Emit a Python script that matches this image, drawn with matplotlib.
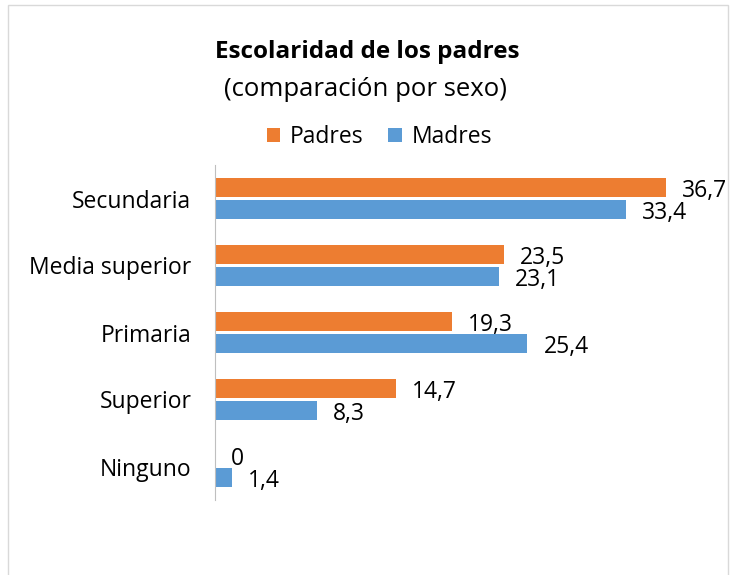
import matplotlib.pyplot as plt
import numpy as np
from matplotlib.patches import Rectangle

plt.rcParams['font.family'] = ['Open Sans', 'DejaVu Sans']

# datos
categorias = ["Secundaria", "Media superior", "Primaria", "Superior", "Ninguno"]
padres = [36.7, 23.5, 19.3, 14.7, 0]
madres = [33.4, 23.1, 25.4, 8.3, 1.4]

color_padres = "#ED7D31"
color_madres = "#5B9BD5"

fig = plt.figure(figsize=(7.32, 5.75), dpi=100)

# marco del grafico
fig.patches.append(Rectangle((8/732, -0.01), 720/732, 1 - 5/575 + 0.01,
                             transform=fig.transFigure, fill=False,
                             edgecolor="#D9D9D9", linewidth=1))

ax = fig.add_axes([215/732, 1 - 500/575, 492/732, 335/575])

y = np.arange(len(categorias))
h = 0.27
d = 0.164

ax.barh(y - d, padres, height=h, color=color_padres, label="Padres")
ax.barh(y + d, madres, height=h, color=color_madres, label="Madres")

for i in range(len(categorias)):
    ax.text(padres[i] + 1.3, y[i] - d + 0.045, "{:g}".format(padres[i]).replace(".", ","),
            va="center", ha="left", fontsize=16.5, color="#000000")
    ax.text(madres[i] + 1.3, y[i] + d + 0.045, "{:g}".format(madres[i]).replace(".", ","),
            va="center", ha="left", fontsize=16.5, color="#000000")

ax.set_ylim(len(categorias) - 0.5, -0.5)
ax.set_xlim(0, 40)
ax.set_yticks(y)
ax.set_yticklabels(categorias, fontsize=16.5)
ax.tick_params(axis="y", length=0, pad=17)
ax.set_xticks([])

for s in ["top", "right", "bottom"]:
    ax.spines[s].set_visible(False)
ax.spines["left"].set_color("#BFBFBF")

# titulo
fig.text(0.502, 1 - 52/575, "Escolaridad de los padres", ha="center", va="center",
         fontsize=17.5, fontweight="bold")
fig.text(0.5, 1 - 90/575, "(comparación por sexo)", ha="center", va="center",
         fontsize=18.5)

fig.legend(loc="center", bbox_to_anchor=(0.518, 1 - 137/575), ncol=2, frameon=False,
           fontsize=16.5, handlelength=0.6, handleheight=0.6, columnspacing=1.1,
           handletextpad=0.4)

plt.savefig("out.png", dpi=100)
